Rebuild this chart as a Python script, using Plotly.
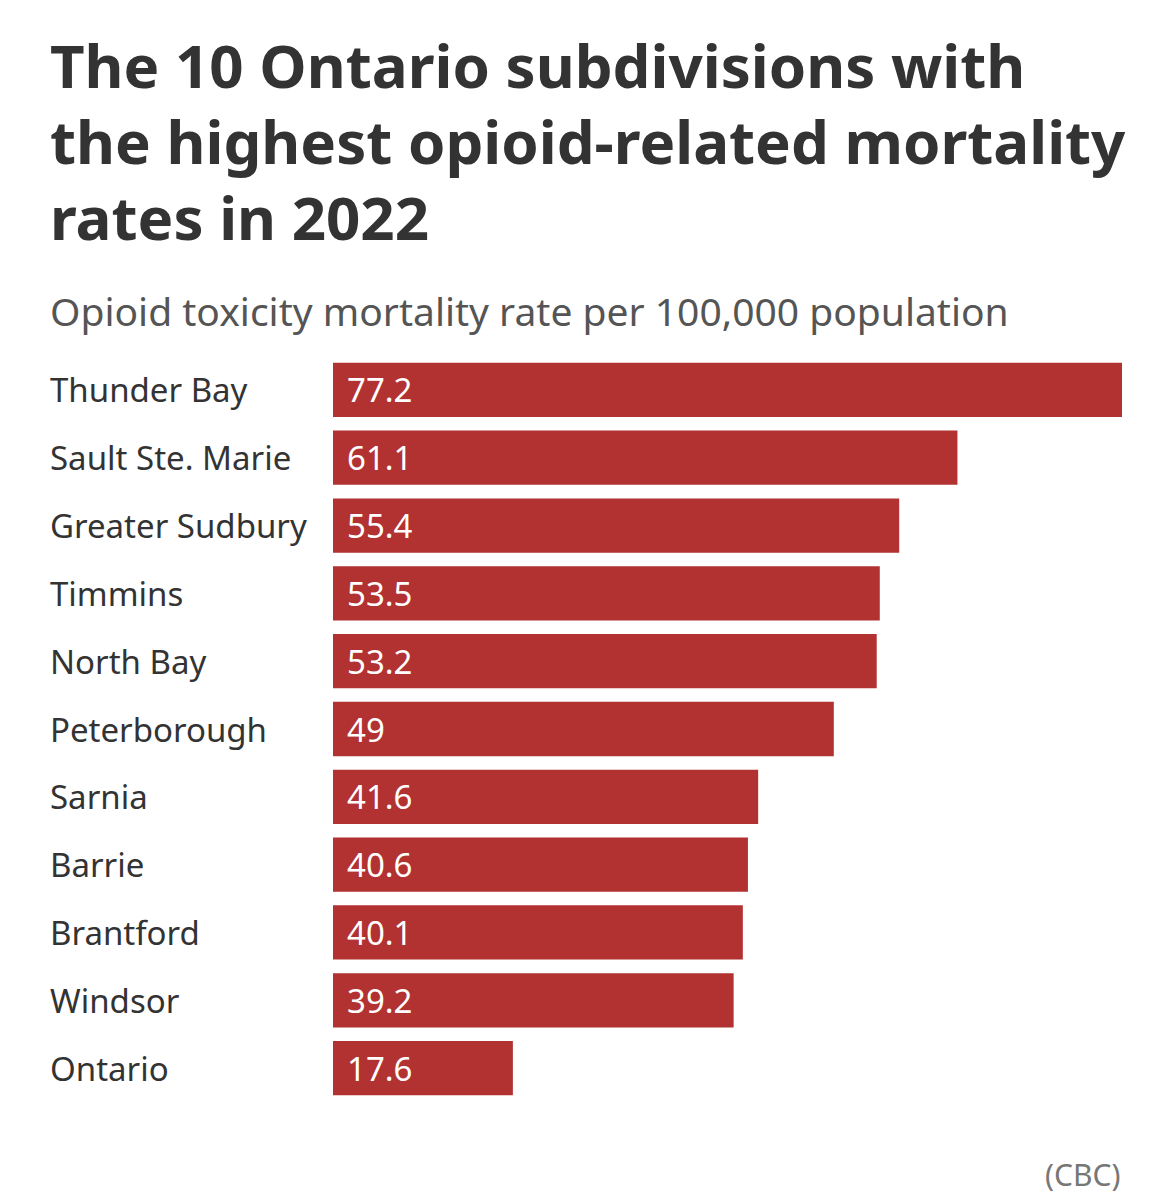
import plotly.graph_objects as go

categories = ["Thunder Bay", "Sault Ste. Marie", "Greater Sudbury", "Timmins", "North Bay",
              "Peterborough", "Sarnia", "Barrie", "Brantford", "Windsor", "Ontario"]
values = [77.2, 61.1, 55.4, 53.5, 53.2, 49, 41.6, 40.6, 40.1, 39.2, 17.6]
value_labels = ["77.2", "61.1", "55.4", "53.5", "53.2", "49", "41.6", "40.6", "40.1", "39.2", "17.6"]
title_lines = ["The 10 Ontario subdivisions with",
               "the highest opioid-related mortality",
               "rates in 2022"]
subtitle = "Opioid toxicity mortality rate per 100,000 population"
source = "(CBC)"

# page has an 8px body margin; compensate
OFF = 8
W, H = 1170 - OFF, 1194 - OFF
ML, MR, MT, MB = 333 - OFF, 48, 356 - OFF, 92
FONT = "Noto Sans"

fig = go.Figure(go.Bar(
    x=values, y=categories, orientation="h",
    marker=dict(color="#B23131", line=dict(width=0)),
    hoverinfo="x+y",
))

pw = W - ML - MR
label_x = -(ML - (48 - OFF)) / pw

ann = []
for c, t in zip(categories, value_labels):
    ann.append(dict(x=0, y=c, xref="x", yref="y", text=t, showarrow=False,
                    xanchor="left", yanchor="middle", xshift=12,
                    font=dict(family=FONT, size=33, color="#FFFFFF")))
    ann.append(dict(x=label_x, y=c, xref="paper", yref="y", text=c, showarrow=False,
                    xanchor="left", yanchor="middle",
                    font=dict(family=FONT, size=33, color="#333333")))

ph = H - MT - MB
def py(ypix):
    return (H - MB - (ypix - OFF)) / ph

for i, line in enumerate(title_lines):
    ann.append(dict(x=label_x, y=py(65 + 76 * i), xref="paper", yref="paper",
                    text="<b>" + line + "</b>", showarrow=False,
                    xanchor="left", yanchor="middle",
                    font=dict(family=FONT, size=60, color="#333333")))
ann.append(dict(x=label_x, y=py(310), xref="paper", yref="paper", text=subtitle,
                showarrow=False, xanchor="left", yanchor="middle",
                font=dict(family=FONT, size=39, color="#555555")))
ann.append(dict(x=1, y=py(1174), xref="paper", yref="paper", text=source,
                showarrow=False, xanchor="right", yanchor="middle",
                font=dict(family=FONT, size=30, color="#777777")))

fig.update_layout(
    width=W, height=H,
    margin=dict(l=ML, r=MR, t=MT, b=MB, pad=0),
    paper_bgcolor="white", plot_bgcolor="white",
    bargap=0.2,
    showlegend=False,
    xaxis=dict(range=[0, 77.2], visible=False, fixedrange=True),
    yaxis=dict(autorange="reversed", showticklabels=False, showgrid=False,
               zeroline=False, showline=False, ticks="", fixedrange=True),
    annotations=ann,
)

fig.write_html("out.html")
